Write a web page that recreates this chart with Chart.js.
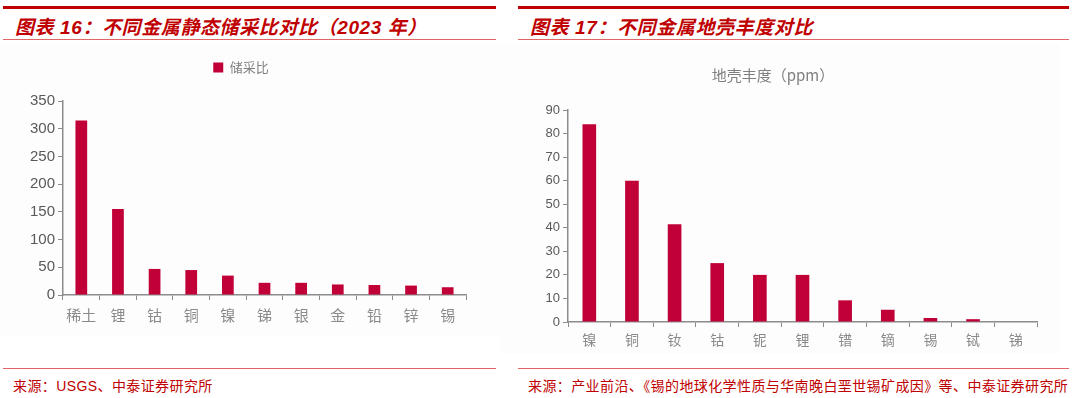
<!DOCTYPE html>
<html>
<head>
<meta charset="utf-8">
<script src="https://cdn.jsdelivr.net/npm/chart.js@4/dist/chart.umd.min.js"></script>
<style>
  body{ margin:0; width:1080px; height:398px; background:#fff; position:relative; overflow:hidden; font-family:'Liberation Sans','Noto Sans CJK SC',sans-serif; }
  .blk{ position:absolute; top:0; height:398px; }
  .topline{ position:absolute; left:0; right:0; top:6px; height:3px; background:#c00000; }
  .head{ position:absolute; left:12px; top:12px; font-size:19px; font-weight:bold; font-style:italic; color:#c00000; letter-spacing:0.6px; white-space:nowrap; }
  .subline{ position:absolute; left:0; right:0; top:39px; height:1px; background:#e06666; }
  .footline{ position:absolute; left:0; right:0; top:368px; height:1px; background:#e06666; }
  .foot{ position:absolute; left:10px; top:375px; font-size:14px; color:#c00000; letter-spacing:0.4px; white-space:nowrap; }
  .plot{ position:absolute; background:#fdfdfd; }
</style>
</head>
<body>
<div class="blk" style="left:3px;width:493px">
  <div class="topline"></div>
  <div class="head">图表 16：不同金属静态储采比对比（2023 年）</div>
  <div class="subline"></div>
  <div class="footline"></div>
  <div class="foot">来源：USGS、中泰证券研究所</div>
</div>
<div class="blk" style="left:518px;width:551px">
  <div class="topline"></div>
  <div class="head">图表 17：不同金属地壳丰度对比</div>
  <div class="subline"></div>
  <div class="footline"></div>
  <div class="foot">来源：产业前沿、《锡的地球化学性质与华南晚白垩世锡矿成因》等、中泰证券研究所</div>
</div>
<div class="plot" style="left:0;top:44px;width:500px;height:292px"><canvas id="c1"></canvas></div>
<div class="plot" style="left:500px;top:44px;width:560px;height:310px"><canvas id="c2"></canvas></div>
<script>
// 图表16 储采比
const reserveMetals = ['稀土','锂','钴','铜','镍','锑','银','金','铅','锌','锡'];
const reserveRatio = [315, 155, 47, 45, 35, 22, 22, 19, 18, 17, 14];
const reserveTicks = [0, 50, 100, 150, 200, 250, 300, 350];

// 图表17 地壳丰度 ppm
const crustMetals = ['镍','铜','钕','钴','铌','锂','镨','镝','锡','铽','锑'];
const crustPpm = [84, 60, 41.5, 25, 20, 20, 9.2, 5.2, 1.7, 1.2, 0.2];
const crustTicks = [0, 10, 20, 30, 40, 50, 60, 70, 80, 90];

const RED = '#c00037';
const AXIS = '#8c8c8c';
const numFont = { family:"'Liberation Sans', Arial, sans-serif" };
const cjkFont = { family:"'Noto Sans CJK SC', sans-serif" };

function legendGap(extra){
  return { id:'legendGap', beforeInit(chart){
    if(!chart.legend) return;
    const fit = chart.legend.fit;
    chart.legend.fit = function(){ fit.call(this); this.height += extra; };
  }};
}

function barChart(el, labels, data, opt){
  return new Chart(el, {
    type:'bar',
    data:{ labels, datasets:[{ label:opt.label, data, backgroundColor:RED, barPercentage:opt.bar, categoryPercentage:1 }] },
    options:{
      responsive:true, maintainAspectRatio:false, animation:false,
      layout:{ padding:opt.pad },
      scales:{
        x:{
          grid:{ display:true, drawOnChartArea:false, drawTicks:true, tickLength:5, color:AXIS, offset:true },
          border:{ display:true, color:AXIS, width:1.5 },
          ticks:{ color:'#8a8a8a', font:{ ...cjkFont, size:opt.xSize }, padding:opt.xPad, maxRotation:0, autoSkip:false },
          afterFit(s){ s.height = opt.xH; }
        },
        y:{
          min:0, max:opt.max,
          afterBuildTicks(s){ s.ticks = opt.ticks.map(v => ({ value:v })); },
          grid:{ display:true, drawOnChartArea:false, drawTicks:true, tickLength:5, color:AXIS },
          border:{ display:true, color:AXIS, width:1.5 },
          ticks:{ color:'#595959', font:{ ...numFont, size:opt.ySize }, padding:3 },
          afterFit(s){ s.width = opt.yW; }
        }
      },
      plugins:{
        legend:opt.legend,
        title:opt.title,
        tooltip:{ enabled:false }
      }
    },
    plugins: opt.legend.display ? [legendGap(opt.gap)] : []
  });
}

barChart(document.getElementById('c1'), reserveMetals, reserveRatio, {
  label:'储采比', bar:0.32, max:350, ticks:reserveTicks,
  pad:{ left:16, right:34, top:0, bottom:0 },
  xSize:15, xPad:6, xH:41, ySize:15, yW:47,
  legend:{ display:true, position:'top', labels:{ boxWidth:10, boxHeight:10, padding:17, color:'#7f7f7f', font:{ ...cjkFont, size:13 } } },
  title:{ display:false },
  gap:17
});

barChart(document.getElementById('c2'), crustMetals, crustPpm, {
  label:'地壳丰度（ppm）', bar:0.32, max:90, ticks:crustTicks,
  pad:{ left:9, right:23, top:0, bottom:0 },
  xSize:14, xPad:4, xH:32, ySize:13, yW:59,
  legend:{ display:false },
  title:{ display:true, text:'地壳丰度（ppm）', color:'#7f7f7f', font:{ ...cjkFont, size:15, weight:'normal' }, padding:{ top:22, bottom:26 } },
  gap:0
});
</script>
</body>
</html>
